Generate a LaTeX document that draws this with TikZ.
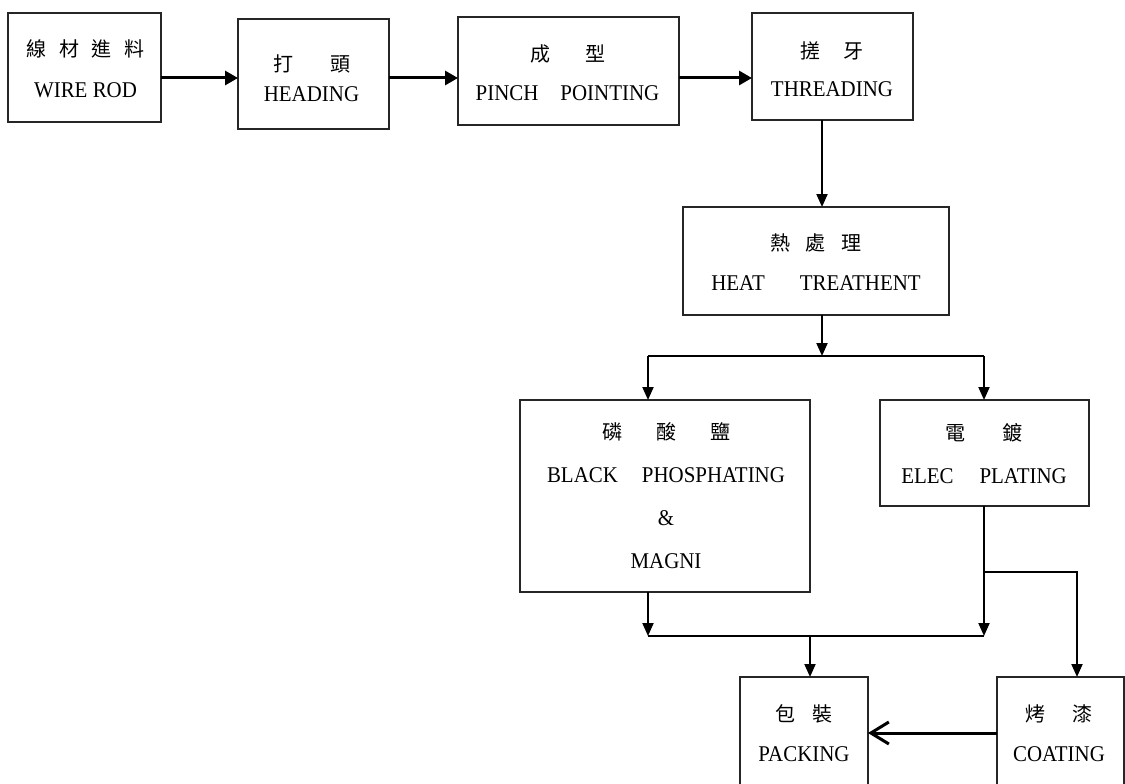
\documentclass[tikz,border=0pt]{standalone}
\usepackage{fontspec}
\setmainfont{Liberation Serif}[FakeStretch=0.93]
\newfontfamily\cjk{Noto Sans CJK TC}
\usetikzlibrary{arrows.meta}
\newcommand\zhf{\cjk\fontsize{20}{20}\selectfont}
\newcommand\lblf[1]{\fontsize{22.5}{#1}\selectfont}
\begin{document}
\begin{tikzpicture}[x=1pt,y=-1pt,
  box/.style={draw=black!85, line width=2pt, inner sep=0pt, outer sep=0pt},
  lbl/.style={align=center, inner sep=0pt, text=black},
  arr/.style={line width=2pt, -{Triangle[length=13pt,width=11pt]}},
  arrthick/.style={line width=3pt, -{Triangle[length=13pt,width=14pt]}},
  conn/.style={line width=2pt},
  barb/.style={line width=3pt, -{Straight Barb[length=18pt,width=22pt]}}]
\useasboundingbox (0,0) rectangle (1125,784);
\clip (0,0) rectangle (1125,784);

% boxes
\node[box, minimum width=153pt, minimum height=109pt] (t1) at (84.5,67.5) {};
\node[box, minimum width=151pt, minimum height=110pt] (t2) at (313.5,74) {};
\node[box, minimum width=221pt, minimum height=108pt] (t3) at (568.5,71) {};
\node[box, minimum width=161pt, minimum height=107pt] (t4) at (832.5,66.5) {};
\node[box, minimum width=266pt, minimum height=108pt] (t5) at (816,261) {};
\node[box, minimum width=290pt, minimum height=192pt] (t6) at (665,496) {};
\node[box, minimum width=209pt, minimum height=106pt] (t7) at (984.5,453) {};
\node[box, minimum width=128pt, minimum height=123pt] (t8) at (804,738.5) {};
\node[box, minimum width=127pt, minimum height=123pt] (t9) at (1060.5,738.5) {};

% labels
\node[lbl, font=\lblf{41}] (l1) at (85.5,68.5) {{\zhf 線\hspace{13pt}材\hspace{13pt}進\hspace{13pt}料}\\WIRE ROD};
\node[lbl, font=\lblf{30}] (l2) at (311.5,78) {{\zhf 打\hspace{37pt}頭}\\HEADING};
\node[lbl, font=\lblf{39}] (l3) at (567.5,72.5) {{\zhf 成\hspace{35pt}型}\\PINCH\hspace{22pt}POINTING};
\node[lbl, font=\lblf{38}] (l4) at (832,69) {{\zhf 搓\hspace{23pt}牙}\\THREADING};
\node[lbl, font=\lblf{40}] (l5) at (816,262) {{\zhf 熱\hspace{16pt}處\hspace{16pt}理}\\HEAT\hspace{35pt}TREATHENT};
\node[lbl, font=\lblf{43}] (l6) at (666,496) {{\zhf 磷\hspace{34pt}酸\hspace{34pt}鹽}\\BLACK\hspace{24pt}PHOSPHATING\\\&\\MAGNI};
\node[lbl, font=\lblf{43}] (l7) at (984,453.5) {{\zhf 電\hspace{38pt}鍍}\\ELEC\hspace{26pt}PLATING};
\node[lbl, font=\lblf{40}] (l8) at (804,733) {{\zhf 包\hspace{17pt}裝}\\PACKING};
\node[lbl, font=\lblf{40}] (l9) at (1059,733) {{\zhf 烤\hspace{27pt}漆}\\COATING};

% connectors
\coordinate (r) at (0,78);
\draw[arrthick] (t1.east |- r) -- (t2.west |- r);
\draw[arrthick] (t2.east |- r) -- (t3.west |- r);
\draw[arrthick] (t3.east |- r) -- (t4.west |- r);
\coordinate (v1) at (822,0);
\draw[arr] (t4.south -| v1) -- (t5.north -| v1);
\coordinate (s) at (822,356);
\coordinate (sl) at (648,356);
\coordinate (sr) at (984,356);
\draw[arr] (t5.south -| s) -- (s);
\draw[conn] (sl) -- (sr);
\draw[arr] (sl) -- (t6.north -| sl);
\draw[arr] (sr) -- (t7.north -| sr);
\coordinate (ml) at (648,636);
\coordinate (mr) at (984,636);
\coordinate (mc) at (810,636);
\draw[arr] (t6.south -| ml) -- (ml);
\draw[arr] (t7.south -| mr) -- (mr);
\draw[conn] (ml) -- (mr);
\draw[arr] (mc) -- (t8.north -| mc);
\coordinate (b) at (984,572);
\coordinate (bc) at (1077,572);
\draw[arr] (b) -| (t9.north -| bc);
\coordinate (c) at (0,733);
\draw[barb] (t9.west |- c) -- (t8.east |- c);
\end{tikzpicture}
\end{document}
